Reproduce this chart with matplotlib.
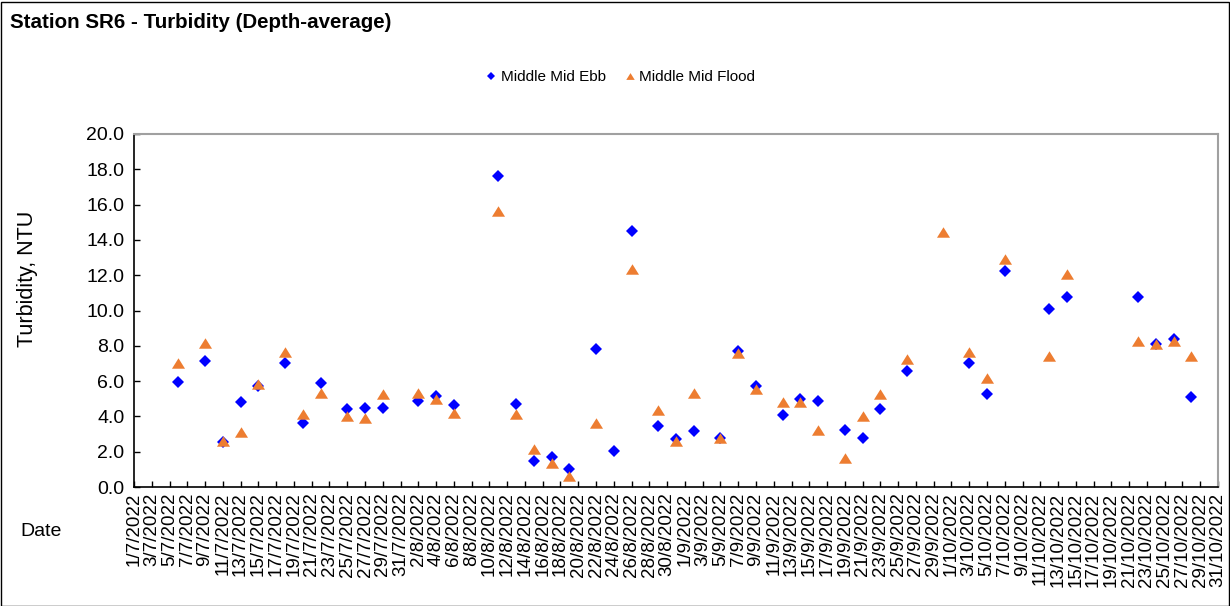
import matplotlib
matplotlib.use("Agg")
import matplotlib.pyplot as plt
from matplotlib.path import Path
from matplotlib.patches import Rectangle
import numpy as np
import pandas as pd

plt.rcParams['font.family'] = ['Liberation Sans', 'DejaVu Sans']

# Sampling dates (day/month, 2022)
dates = ["6/7", "9/7", "11/7", "13/7", "15/7", "18/7", "20/7", "22/7", "25/7", "27/7",
         "29/7", "2/8", "4/8", "6/8", "11/8", "13/8", "15/8", "17/8", "19/8", "22/8",
         "24/8", "26/8", "29/8", "31/8", "2/9", "5/9", "7/9", "9/9", "12/9", "14/9",
         "16/9", "19/9", "21/9", "23/9", "26/9", "30/9", "3/10", "5/10", "7/10", "12/10",
         "14/10", "22/10", "24/10", "26/10", "28/10"]

ebb = [5.95, 7.15, 2.55, 4.8, 5.7, 7.0, 3.65, 5.9, 4.4, 4.45,
       4.45, 4.85, 5.15, 4.65, 17.6, 4.7, 1.5, 1.7, 1.0, 7.8,
       2.05, 14.5, 3.45, 2.7, 3.2, 2.8, 7.7, 5.7, 4.1, 5.0,
       4.85, 3.25, 2.75, 4.4, 6.55, np.nan, 7.0, 5.25, 12.25, 10.1,
       10.75, 10.75, 8.1, 8.4, 5.1]

flood = [7.05, 8.15, 2.6, 3.1, 5.85, 7.65, 4.15, 5.3, 4.0, 3.9,
         5.25, 5.35, 5.0, 4.2, 15.65, 4.15, 2.15, 1.35, 0.6, 3.65,
         np.nan, 12.35, 4.35, 2.6, 5.3, 2.75, 7.6, 5.55, 4.8, 4.8,
         3.25, 1.65, 4.0, 5.25, 7.25, 14.45, 7.65, 6.2, 12.9, 7.4,
         12.05, 8.25, 8.1, 8.3, 7.45]

x = pd.to_datetime([d + "/2022" for d in dates], format="%d/%m/%Y")
start = pd.Timestamp(2022, 7, 1)
end = pd.Timestamp(2022, 10, 31)
tick_dates = pd.date_range(start, end, freq="2D")
tick_labels = [f"{d.day}/{d.month}/{d.year}" for d in tick_dates]

# wide triangle like Excel's marker
tri = Path([(-1, -0.8), (1, -0.8), (0, 0.8), (-1, -0.8)],
           [Path.MOVETO, Path.LINETO, Path.LINETO, Path.CLOSEPOLY])

fig = plt.figure(figsize=(12.3, 6.06), dpi=100)
ax = fig.add_axes([134 / 1230, 1 - 487 / 606, (1218 - 134) / 1230, (487 - 134) / 606])

ax.plot(x, ebb, linestyle='none', marker='D', markersize=6.1, color='#0000FF',
        markeredgewidth=0, label='Middle Mid Ebb', zorder=3)
ax.plot(x, flood, linestyle='none', marker=tri, markersize=9.4, color='#ED7D31',
        markeredgewidth=0, label='Middle Mid Flood', zorder=3)

ax.set_xlim(start, end)
ax.set_ylim(0, 20)
ax.set_yticks(np.arange(0, 20.1, 2))
ax.set_yticklabels([f"{v:.1f}" for v in np.arange(0, 20.1, 2)], fontsize=14)
ax.set_xticks(tick_dates)
ax.set_xticklabels(tick_labels, rotation=90, fontsize=13.5, va='top')
ax.tick_params(axis='both', direction='in', length=4, width=1, color='black')
ax.tick_params(axis='x', pad=4)
ax.tick_params(axis='y', pad=7)

for side in ['left', 'bottom']:
    ax.spines[side].set_color('black')
    ax.spines[side].set_linewidth(1.2)
for side in ['top', 'right']:
    ax.spines[side].set_color('#a0a0a0')
    ax.spines[side].set_linewidth(1.5)

# axis titles
fig.text(27 / 1230, 1 - 279 / 606, 'Turbidity, NTU', fontsize=15.5, rotation=90,
         ha='center', va='center')
fig.text(20 / 1230, 1 - 532 / 606, 'Date', fontsize=14, ha='left', va='center')
fig.text(10 / 1230, 1 - 23 / 606, 'Station SR6 - Turbidity (Depth-average)',
         fontsize=14.8, fontweight='bold', ha='left', va='center')

fig.legend(loc='center', bbox_to_anchor=(621 / 1230, 1 - 77 / 606), ncol=2,
           frameon=False, fontsize=11, markerscale=0.65, handlelength=0.6,
           handletextpad=0.3, columnspacing=1.3, numpoints=1)

# outer chart border
fig.add_artist(Rectangle((0.5 / 1230, 0.5 / 606), 1228.5 / 1230, 1 - 2 / 606,
                         transform=fig.transFigure, fill=False,
                         edgecolor='black', linewidth=1))

plt.savefig('out.png', dpi=100)
plt.close()
